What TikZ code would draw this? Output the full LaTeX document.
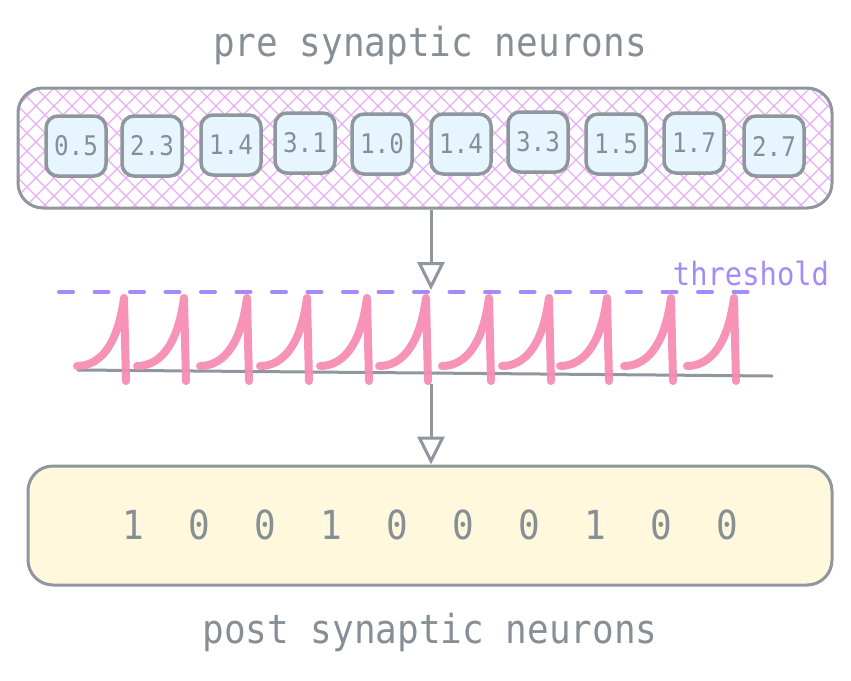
\documentclass[tikz,border=0pt]{standalone}
\usepackage{fontspec}
\newfontfamily\mono[FakeStretch=0.9]{DejaVu Sans Mono}
\usetikzlibrary{arrows.meta}
\definecolor{tgray}{HTML}{868E96}
\definecolor{bgray}{HTML}{8F969D}
\definecolor{hatchc}{HTML}{E8ADF7}
\definecolor{cellfill}{HTML}{E7F5FF}
\definecolor{postfill}{HTML}{FFF8DD}
\definecolor{thr}{HTML}{A48BF7}
\definecolor{spikec}{HTML}{F58DB2}
\tikzset{
  title/.style={font=\mono\fontsize{40}{44}\selectfont, text=tgray},
  cell/.style={draw=bgray, line width=3.5pt, fill=cellfill, rounded corners=12pt,
    minimum width=60pt, minimum height=60pt, inner sep=0pt,
    font=\mono\fontsize{27}{30}\selectfont, text=tgray},
  bigbox/.style={draw=bgray, line width=3pt, rounded corners=25pt, inner sep=0pt},
  digit/.style={font=\mono\fontsize{40}{44}\selectfont, text=tgray},
  arr/.style={draw=bgray, line width=3pt, -{Triangle[open, fill=white, length=28pt, width=27pt, line width=3pt]}},
  spikeline/.style={draw=spikec, line width=8pt, line cap=round, line join=round, opacity=0.95},
}
\begin{document}
\begin{tikzpicture}[x=1pt, y=-1pt]
\useasboundingbox (0,0) rectangle (851,680);

% titles
\node[title] (pretitle) at (430,45) {pre synaptic neurons};
\node[title] (posttitle) at (430,632) {post synaptic neurons};

% hatched top box
\begin{scope}
  \clip[rounded corners=25pt] (18,88) rectangle (832,208);
  \foreach \i in {-12,...,70} {
    \draw[hatchc, line width=1.1pt] ({\i*18},70) -- ++(160,160);
    \draw[hatchc, line width=1.1pt] ({\i*18},70) -- ++(-160,160);
  }
\end{scope}
\node[bigbox, minimum width=814pt, minimum height=120pt] (pre) at (425,148) {};

% cells
\foreach \x/\v/\yy [count=\k] in {76/0.5/146, 152/2.3/146, 231/1.4/145, 305/3.1/143, 382/1.0/144,
    461/1.4/144, 538/3.3/142, 616/1.5/144, 694/1.7/143, 774/2.7/146}
  \node[cell] (n\k) at (\x,\yy) {\v};

% threshold
\draw[thr, line width=4pt, dash pattern=on 14pt off 21.5pt, line cap=round] (59,292) -- (757,292);
\node[font=\mono\fontsize{32}{34}\selectfont, text=thr] (thrlabel) at (751,273) {threshold};

% baseline
\draw[bgray, line width=3pt, line cap=round] (78,370) -- (772,376);

% spikes
\foreach \p in {125,185,248,308,368,427,490,550,608,672,735} {
  \draw[spikeline] ({\p-48},366) .. controls ({\p-28},366) and ({\p-8},350) .. ({\p-1},298) -- ({\p+1},381);
}

% post box
\node[bigbox, fill=postfill, minimum width=804pt, minimum height=119pt] (post) at (430,525.5) {};
\foreach \d [count=\k] in {1,0,0,1,0,0,0,1,0,0}
  \node[digit] (d\k) at ({133+66*(\k-1)},525) {\d};

% arrows
\coordinate (t) at (431,290);
\coordinate (b) at (431,384);
\draw[arr] (pre.south -| t) -- (t);
\draw[arr] (b) -- (b |- post.north);
\end{tikzpicture}
\end{document}
